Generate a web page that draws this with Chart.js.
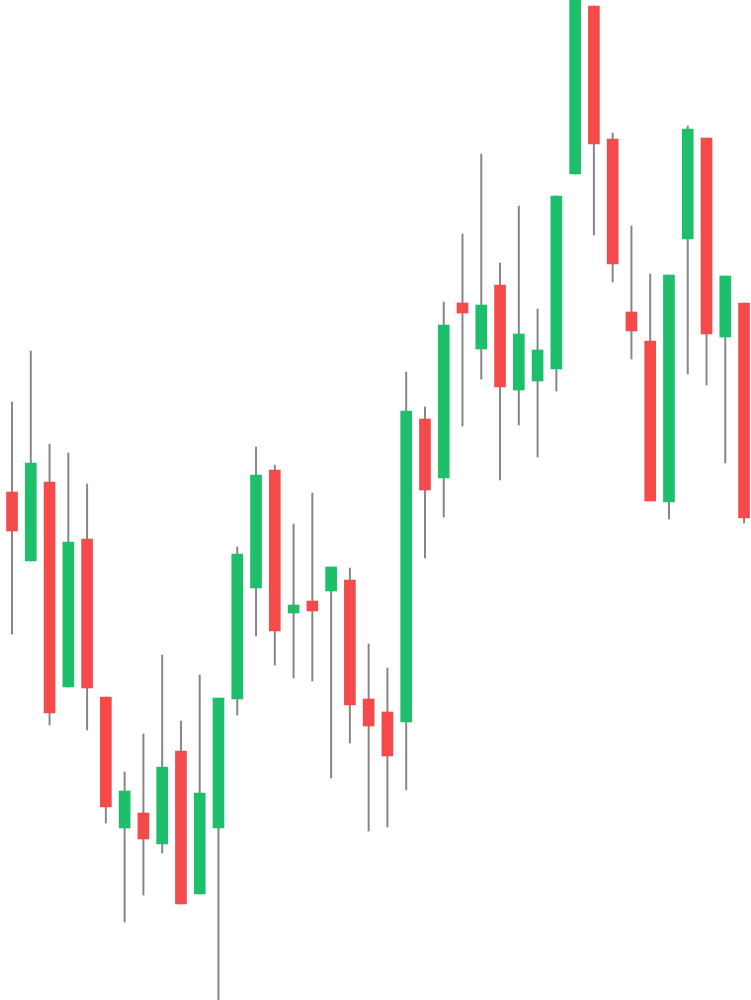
<!DOCTYPE html>
<html>
<head>
<meta charset="utf-8">
<script src="https://cdn.jsdelivr.net/npm/chart.js@4/dist/chart.umd.min.js"></script>
<style>
  html, body { margin: 0; padding: 0; background: #ffffff; }
  #wrap { width: 751px; height: 1000px; position: relative; }
</style>
</head>
<body>
<div id="wrap"><canvas id="myChart"></canvas></div>
<script>
  /* CANDLE DATA (one entry per candle, left to right) */

  const opens  = [508, 439, 518, 313, 461, 303, 172, 187, 156, 249,
                  106, 172, 301, 412, 530, 387, 399, 409, 420, 301,
                  288, 278, 581, 522, 697, 651, 715, 610, 619, 631,
                  826, 994, 861, 688, 659, 498, 761, 862, 663, 697];
  const closes = [469, 537, 287, 458, 312, 193, 209, 161, 233,  96,
                  207, 302, 446, 525, 369, 395, 389, 433, 295, 274,
                  244, 589, 510, 675, 687, 695, 613, 666, 650, 804,
                 1010, 856, 736, 669, 499, 725, 871, 666, 724, 482];
  const highs  = [598, 649, 556, 547, 516, 303, 228, 266, 345, 279,
                  325, 302, 453, 553, 535, 476, 507, 433, 432, 356,
                  332, 628, 593, 698, 766, 846, 737, 794, 691, 804,
                 1010, 994, 867, 774, 726, 725, 874, 862, 724, 697];
  const lows   = [366, 439, 275, 313, 270, 177,  78, 105, 147,  96,
                  106,  -5, 285, 364, 335, 322, 319, 222, 257, 169,
                  173, 210, 442, 483, 574, 621, 520, 575, 543, 609,
                  826, 765, 718, 641, 499, 481, 626, 615, 537, 477];

  const upColor = '#1dbf6a';
  const downColor = '#f44a4a';
  const wickColor = '#858585';

  /* FUNCTION TO BUILD DATASETS */

  function buildPoints(a, b) {
    const pts = [];
    for (let i = 0, j = a.length; i < j; i++) {
      pts.push({ x: i, y: [a[i], b[i]] });
    }
    return pts;
  }

  function bodyColors() {
    return opens.map((o, i) => (closes[i] >= o ? upColor : downColor));
  }

  /* FUNCTION TO CREATE CHART */

  function initChart(chart) {
    return new Chart(chart, {
      type: 'bar',
      data: {
        datasets: [
          {
            label: 'body',
            data: buildPoints(opens, closes),
            backgroundColor: bodyColors(),
            borderWidth: 0,
            barThickness: 11,
            grouped: false,
            order: 0
          },
          {
            label: 'wick',
            data: buildPoints(lows, highs),
            backgroundColor: wickColor,
            borderWidth: 0,
            barThickness: 1.3,
            grouped: false,
            order: 1
          }
        ]
      },
      options: {
        responsive: true,
        maintainAspectRatio: false,
        animation: false,
        layout: { padding: 0 },
        plugins: {
          legend: { display: false },
          tooltip: { enabled: false }
        },
        scales: {
          x: {
            type: 'linear',
            min: -0.64,
            max: 39.37,
            offset: false,
            grid: { offset: false },
            display: false
          },
          y: {
            min: 0,
            max: 1000,
            display: false
          }
        }
      }
    });
  }

  document.addEventListener('DOMContentLoaded', () => {
    initChart(document.querySelector('#myChart'));
  });
</script>
</body>
</html>
